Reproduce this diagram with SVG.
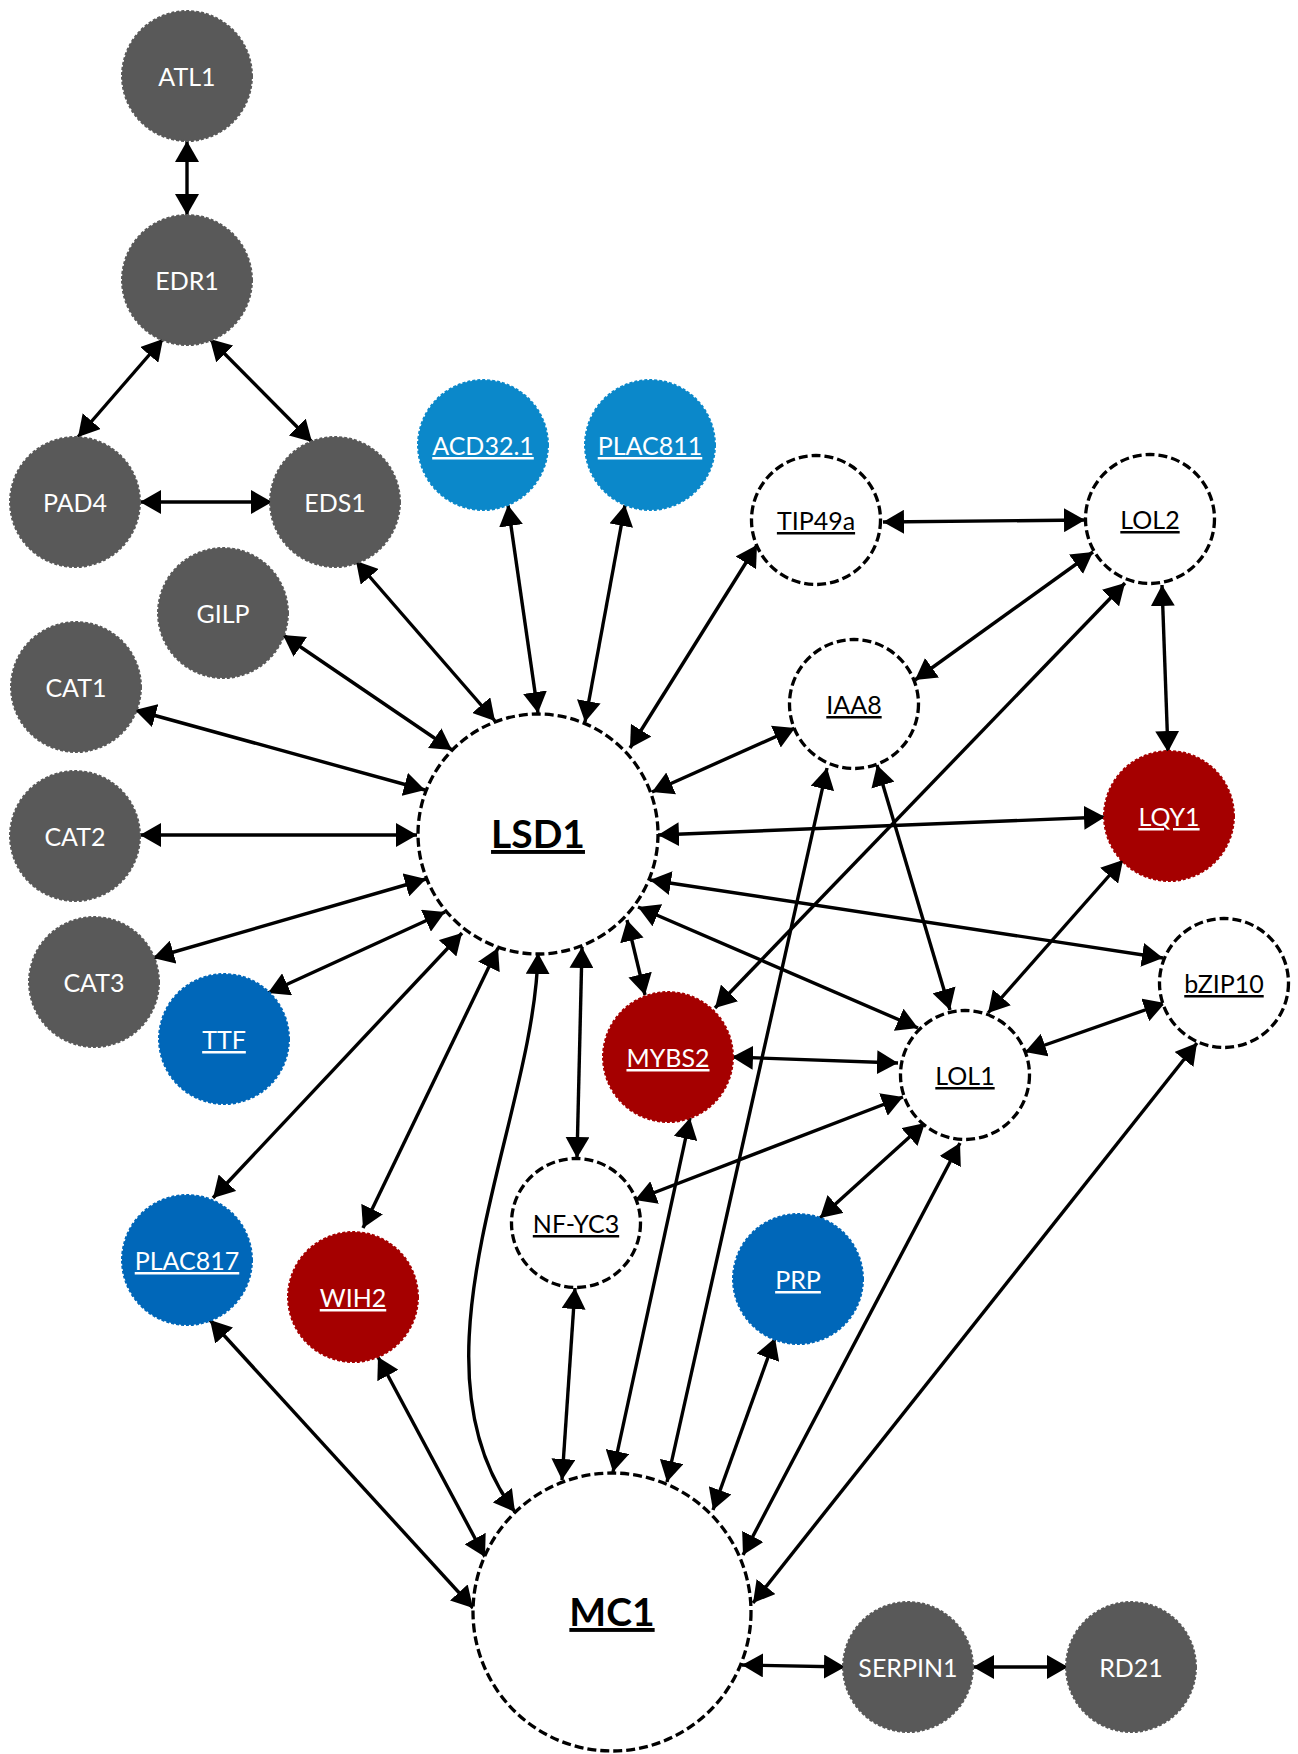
<svg xmlns="http://www.w3.org/2000/svg" width="1298" height="1754" viewBox="0 0 1298 1754">
<defs>
<style>
.g{fill:#595959;stroke:#595959;stroke-width:2;stroke-dasharray:3 2}
.lb{fill:#0B88CA;stroke:#0B88CA;stroke-width:2;stroke-dasharray:3 2}
.db{fill:#0067B9;stroke:#0067B9;stroke-width:2;stroke-dasharray:3 2}
.r{fill:#A50000;stroke:#A50000;stroke-width:2;stroke-dasharray:3 2}
.w{fill:#ffffff;stroke:#000;stroke-width:3.3;stroke-dasharray:9 4}
text{font-family:Lato,"Liberation Sans",sans-serif;font-size:25px;text-anchor:middle}
.tw{fill:#ffffff}
.tb{fill:#000}
.u{text-decoration:underline}
.big{font-size:39px;font-weight:bold}
#edges line,#edges path{stroke:#000;stroke-width:3.4;fill:none;marker-start:url(#ah);marker-end:url(#ah)}
</style>
<marker id="ah" markerUnits="userSpaceOnUse" viewBox="0 0 21 24" refX="21" refY="12" markerWidth="21" markerHeight="24" orient="auto-start-reverse">
<path d="M0,0 L21,12 L0,24 z" fill="#000"/>
</marker>
</defs>
<rect width="1298" height="1754" fill="#fff"/>
<g id="edges">
<line x1="187" y1="141" x2="187" y2="215"/>
<line x1="163" y1="339" x2="78" y2="437"/>
<line x1="210" y1="339" x2="312" y2="442"/>
<line x1="140" y1="502" x2="272" y2="502"/>
<line x1="356" y1="561" x2="495" y2="721"/>
<line x1="283" y1="635" x2="452" y2="750"/>
<line x1="135" y1="710" x2="425" y2="790"/>
<line x1="140" y1="835" x2="417" y2="835"/>
<line x1="153" y1="958" x2="426" y2="879"/>
<line x1="268" y1="993" x2="445" y2="912"/>
<line x1="508" y1="505" x2="538" y2="713"/>
<line x1="625" y1="505" x2="585" y2="722"/>
<line x1="757" y1="545" x2="630" y2="748"/>
<line x1="795" y1="728" x2="652" y2="792"/>
<line x1="1105" y1="817" x2="658" y2="835"/>
<line x1="1163" y1="958" x2="650" y2="880"/>
<line x1="918" y1="1028" x2="638" y2="907"/>
<line x1="645" y1="995" x2="627" y2="920"/>
<line x1="577" y1="1158" x2="582" y2="947"/>
<path d="M538,953 C535,1120 400,1360 515,1512"/>
<line x1="363" y1="1228" x2="498" y2="948"/>
<line x1="213" y1="1198" x2="462" y2="933"/>
<line x1="883" y1="522" x2="1085" y2="520"/>
<line x1="1093" y1="552" x2="915" y2="680"/>
<line x1="1125" y1="583" x2="715" y2="1008"/>
<line x1="1162" y1="585" x2="1168" y2="752"/>
<line x1="827" y1="768" x2="667" y2="1482"/>
<line x1="690" y1="1118" x2="613" y2="1472"/>
<line x1="575" y1="1288" x2="562" y2="1480"/>
<line x1="775" y1="1338" x2="713" y2="1510"/>
<line x1="960" y1="1143" x2="743" y2="1555"/>
<line x1="1197" y1="1043" x2="753" y2="1603"/>
<line x1="378" y1="1357" x2="485" y2="1557"/>
<line x1="210" y1="1320" x2="473" y2="1608"/>
<line x1="742" y1="1665" x2="845" y2="1667"/>
<line x1="973" y1="1667" x2="1068" y2="1667"/>
<line x1="877" y1="765" x2="950" y2="1010"/>
<line x1="1123" y1="860" x2="988" y2="1013"/>
<line x1="1165" y1="1003" x2="1025" y2="1052"/>
<line x1="732" y1="1057" x2="898" y2="1063"/>
<line x1="635" y1="1200" x2="903" y2="1097"/>
<line x1="820" y1="1218" x2="925" y2="1123"/>
</g>
<g id="ATL1"><circle class="g" cx="187" cy="76" r="65"/><text class="tw" x="187" y="86">ATL1</text></g>
<g id="EDR1"><circle class="g" cx="187" cy="280" r="65"/><text class="tw" x="187" y="290">EDR1</text></g>
<g id="PAD4"><circle class="g" cx="75" cy="502" r="65"/><text class="tw" x="75" y="512">PAD4</text></g>
<g id="EDS1"><circle class="g" cx="335" cy="502" r="65"/><text class="tw" x="335" y="512">EDS1</text></g>
<g id="ACD32.1"><circle class="lb" cx="483" cy="445" r="65"/><text class="tw u" x="483" y="455">ACD32.1</text></g>
<g id="PLAC811"><circle class="lb" cx="650" cy="445" r="65"/><text class="tw u" x="650" y="455">PLAC811</text></g>
<g id="TIP49a"><circle class="w" cx="816" cy="520" r="64.5"/><text class="tb u" x="816" y="530">TIP49a</text></g>
<g id="LOL2"><circle class="w" cx="1150" cy="519" r="64.5"/><text class="tb u" x="1150" y="529">LOL2</text></g>
<g id="GILP"><circle class="g" cx="223" cy="613" r="65"/><text class="tw" x="223" y="623">GILP</text></g>
<g id="IAA8"><circle class="w" cx="854" cy="704" r="64.5"/><text class="tb u" x="854" y="714">IAA8</text></g>
<g id="CAT1"><circle class="g" cx="76" cy="687" r="65"/><text class="tw" x="76" y="697">CAT1</text></g>
<g id="LSD1"><circle class="w" cx="538" cy="834" r="120"/><text class="tb u big" x="538" y="848">LSD1</text></g>
<g id="LQY1"><circle class="r" cx="1169" cy="816" r="65"/><text class="tw u" x="1169" y="826">LQY1</text></g>
<g id="CAT2"><circle class="g" cx="75" cy="836" r="65"/><text class="tw" x="75" y="846">CAT2</text></g>
<g id="CAT3"><circle class="g" cx="94" cy="982" r="65"/><text class="tw" x="94" y="992">CAT3</text></g>
<g id="bZIP10"><circle class="w" cx="1224" cy="983" r="64.5"/><text class="tb u" x="1224" y="993">bZIP10</text></g>
<g id="TTF"><circle class="db" cx="224" cy="1039" r="65"/><text class="tw u" x="224" y="1049">TTF</text></g>
<g id="MYBS2"><circle class="r" cx="668" cy="1057" r="65"/><text class="tw u" x="668" y="1067">MYBS2</text></g>
<g id="LOL1"><circle class="w" cx="965" cy="1075" r="64.5"/><text class="tb u" x="965" y="1085">LOL1</text></g>
<g id="NF-YC3"><circle class="w" cx="576" cy="1223" r="64.5"/><text class="tb u" x="576" y="1233">NF-YC3</text></g>
<g id="PLAC817"><circle class="db" cx="187" cy="1260" r="65"/><text class="tw u" x="187" y="1270">PLAC817</text></g>
<g id="WIH2"><circle class="r" cx="353" cy="1297" r="65"/><text class="tw u" x="353" y="1307">WIH2</text></g>
<g id="PRP"><circle class="db" cx="798" cy="1279" r="65"/><text class="tw u" x="798" y="1289">PRP</text></g>
<g id="MC1"><circle class="w" cx="612" cy="1612" r="139"/><text class="tb u big" x="612" y="1626">MC1</text></g>
<g id="SERPIN1"><circle class="g" cx="908" cy="1667" r="65"/><text class="tw" x="908" y="1677">SERPIN1</text></g>
<g id="RD21"><circle class="g" cx="1131" cy="1667" r="65"/><text class="tw" x="1131" y="1677">RD21</text></g>
</svg>
